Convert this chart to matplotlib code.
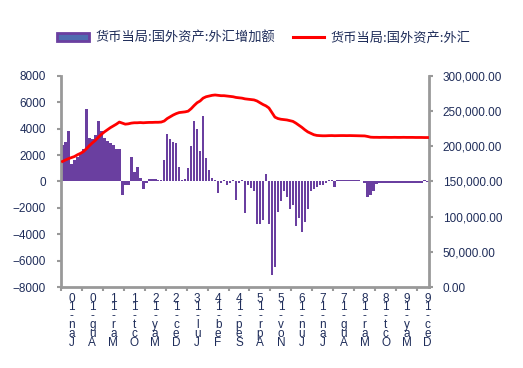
import matplotlib.pyplot as plt
from matplotlib.patches import Patch
from matplotlib.lines import Line2D
from matplotlib.ticker import FuncFormatter, MultipleLocator

plt.rcParams["font.family"] = ["Liberation Sans", "Noto Sans CJK SC", "DejaVu Sans"]

# 月度数据: 2009-10 ~ 2019-12
fx_change = [
    2780, 3000, 3850, 1300, 1650, 1850, 2100, 2500, 5500, 3300,
    3200, 3500, 4600, 3850, 3300, 3100, 2900, 2800, 2500, 2450,
    -1000, -300, -250, 1850, 700, 1100, 300, -550, -150, 200,
    200, 200, 150, 100, 1600, 3600, 3200, 3000, 2900, 1100,
    100, 200, 1000, 2700, 4550, 4000, 2300, 5000, 1800, 900,
    300, 100, -850, -150, 150, -300, -100, 100, -1400, -100,
    150, -2400, -300, -500, -700, -3200, -3200, -2900, 600, -3200,
    -7100, -6500, -2300, -1500, -700, -1200, -2100, -1800, -3400, -2800,
    -3850, -3100, -2100, -700, -550, -450, -300, -250, -100, 100,
    150, -400, 100, 150, 150, 150, 150, 100, 150, 100,
    50, -100, -1200, -1050, -700, -200, -150, -150, -120, -150,
    -150, -130, -150, -150, -120, -150, -150, -130, -150, -150,
    -120, 100, -50,
]

fx_level = [
    178500, 180500, 182500, 184000, 185500, 188000, 190000, 192500, 196500, 201000,
    205000, 208500, 213000, 217000, 220500, 223500, 226500, 229000, 231500, 234500,
    233000, 231500, 232000, 233000, 233500, 233500, 233800, 233500, 233800, 234000,
    234000, 234200, 234200, 234500, 236000, 239500, 242000, 244500, 246500, 248000,
    248500, 249000, 250000, 253500, 258000, 262000, 264500, 268500, 270500, 271500,
    272500, 273000, 272500, 272000, 272000, 271500, 271000, 270500, 269500, 269000,
    268500, 267500, 267000, 266500, 266000, 264500, 262000, 259500, 257500, 254500,
    248000, 241500, 239500, 238500, 238000, 237500, 236500, 235500, 233000, 230000,
    227000, 223500, 220500, 218500, 216500, 215500, 215200, 215000, 215000, 215200,
    215300, 215100, 215200, 215300, 215300, 215200, 215300, 215200, 215100, 215000,
    214900, 214800, 214000, 213000, 212800, 212800, 212700, 212800, 212800, 212700,
    212700, 212800, 212700, 212700, 212800, 212700, 212700, 212700, 212600, 212600,
    212600, 212500, 212500,
]

tick_labels = [
    "Jan-10", "Aug-10", "Mar-11", "Oct-11", "May-12", "Dec-12", "Jul-13", "Feb-14",
    "Sep-14", "Apr-15", "Nov-15", "Jun-16", "Jan-17", "Aug-17", "Mar-18", "Oct-18",
    "May-19", "Dec-19",
]

bar_name = "货币当局:国外资产:外汇增加额"
line_name = "货币当局:国外资产:外汇"

bar_color = "#6a3fa0"
line_color = "#ff0000"
text_color = "#1f2d5a"
axis_color = "#999999"

n = len(fx_change)
x = list(range(n))

fig = plt.figure(figsize=(5.23, 3.68), dpi=100)
ax = fig.add_axes([0.1166, 0.2201, 0.7037, 0.5734])
ax2 = ax.twinx()

ax.bar(x, fx_change, width=0.85, color=bar_color, zorder=2)
ax2.plot(x, fx_level, color=line_color, linewidth=2.0, zorder=3)

ax.set_zorder(ax2.get_zorder() - 1)
ax2.patch.set_visible(False)

ax.set_xlim(-0.5, n - 0.5)
ax.set_ylim(-8000, 8000)
ax.yaxis.set_major_locator(MultipleLocator(2000))
ax2.set_ylim(0, 300000)
ax2.yaxis.set_major_locator(MultipleLocator(50000))
ax2.yaxis.set_major_formatter(FuncFormatter(lambda v, p: f"{v:,.2f}"))

# x 轴: 主刻度在分组边界, 标签在月份位置(竖排字符)
ax.set_xticks([-0.5 + 7 * k for k in range(18)])
ax.set_xticklabels([])
label_pos = [3 + 7 * k for k in range(len(tick_labels))]
ax.set_xticks(label_pos, minor=True)
ax.set_xticklabels(["\n".join(reversed(s)) for s in tick_labels], minor=True,
                   fontsize=8.5, color=text_color, linespacing=0.66, va="top")
ax.tick_params(axis="x", which="minor", length=0, pad=4)
ax.tick_params(axis="x", which="major", length=3, width=1.5, color=axis_color)

for a in (ax, ax2):
    a.spines["top"].set_visible(False)
    a.tick_params(axis="y", labelsize=8.5, labelcolor=text_color, length=3,
                  width=1.5, color=axis_color)
ax.tick_params(axis="y", pad=8)
ax2.tick_params(axis="y", pad=7)
ax.spines["right"].set_visible(False)
ax2.spines["left"].set_visible(False)
ax2.spines["bottom"].set_visible(False)
ax.spines["left"].set_color(axis_color)
ax.spines["left"].set_linewidth(2)
ax.spines["bottom"].set_color(axis_color)
ax.spines["bottom"].set_linewidth(2)
ax2.spines["right"].set_color(axis_color)
ax2.spines["right"].set_linewidth(2)

handles = [
    Patch(facecolor="#4f6cb0", edgecolor=bar_color, linewidth=2),
    Line2D([0], [0], color=line_color, linewidth=2.2),
]
fig.legend(handles, [bar_name, line_name], ncol=2, loc="center",
           bbox_to_anchor=(0.505, 0.897), frameon=False,
           prop={"family": ["Noto Sans CJK SC"], "size": 9.5},
           labelcolor=text_color, handlelength=2.4, handleheight=0.6,
           handletextpad=0.5, columnspacing=1.3)

fig.savefig("out.png", dpi=100)
plt.close(fig)
